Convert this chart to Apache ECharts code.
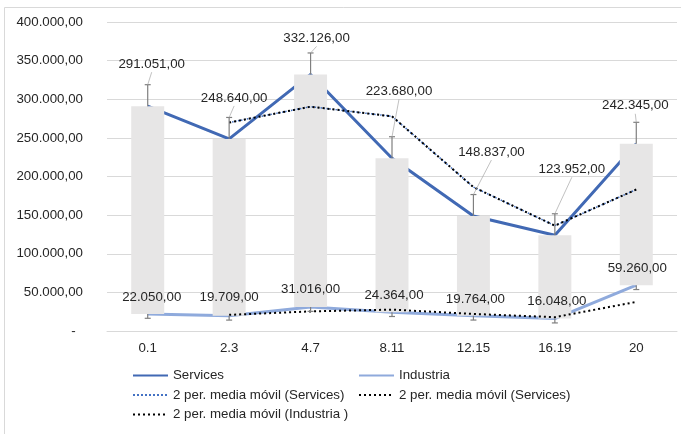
<!DOCTYPE html>
<html>
<head>
<meta charset="utf-8">
<script src="https://cdn.jsdelivr.net/npm/echarts@6/dist/echarts.min.js"></script>
<style>
  html, body { margin: 0; padding: 0; background: #fff; }
</style>
</head>
<body>
<div id="main" style="width: 681px;height:434px;"></div>
<script type="text/javascript">
    // data
    var categories = ['0.1', '2.3', '4.7', '8.11', '12.15', '16.19', '20'];
    var services = [291051, 248640, 332126, 223680, 148837, 123952, 242345];
    var industria = [22050, 19709, 31016, 24364, 19764, 16048, 59260];
    // 2 period moving averages (trendlines)
    var servicesMA = ['-', 269846, 290383, 277903, 186259, 136395, 183149];
    var industriaMA = ['-', 20880, 25363, 27690, 22064, 17906, 37654];
    // error bar amounts (standard error)
    var servicesErr = 27800;
    var industriaErr = 5600;
    var yTicks = [0, 50000, 100000, 150000, 200000, 250000, 300000, 350000, 400000];

    // label offsets in px from the point (style only)
    var servLabelOff = [[4, -42], [5, -41], [6, -36], [7, -67], [18, -64], [17, -66], [-1, -38]];
    var indLabelOff = [[4, -17], [0, -18], [0, -18], [2, -17], [2, -16], [2, -17], [1, -17]];

    var FONT = 'Liberation Sans, Arial, sans-serif';
    var TEXT = '#262626';
    var SERV_COLOR = '#4169B4';
    var IND_COLOR = '#8FAADC';

    function fmt(v) {
        var s = String(Math.round(v));
        s = s.replace(/\B(?=(\d{3})+(?!\d))/g, '.');
        return s + ',00';
    }

    var myChart = echarts.init(document.getElementById('main'));

    var legendBase = {
        orient: 'vertical',
        top: 364,
        itemWidth: 35, itemHeight: 14, itemGap: 6.5,
        itemStyle: { opacity: 0 },
        textStyle: { fontSize: 13.3, color: TEXT, fontFamily: FONT }
    };

    var option = {
        backgroundColor: '#fff',
        animation: false,
        textStyle: { fontFamily: FONT },
        graphic: [{
            type: 'rect',
            shape: { x: 4.5, y: 7.5, width: 720, height: 500 },
            style: { fill: 'none', stroke: '#D9D9D9', lineWidth: 1 },
            silent: true, z: -10
        }],
        grid: { left: 107, right: 4, top: 22, bottom: 103, containLabel: false },
        legend: [
            Object.assign({}, legendBase, {
                left: 127,
                data: ['Services', '2 per. media móvil (Services)', '2 per. media móvil (Industria )']
            }),
            Object.assign({}, legendBase, {
                left: 353,
                data: ['Industria', '2 per. media móvil (Services) ']
            })
        ],
        xAxis: {
            type: 'category',
            data: categories,
            boundaryGap: true,
            axisLine: { lineStyle: { color: '#D9D9D9', width: 1 } },
            axisTick: { show: false },
            axisLabel: { color: TEXT, fontSize: 13.3, margin: 11, fontFamily: FONT }
        },
        yAxis: {
            type: 'value',
            min: yTicks[0],
            max: yTicks[yTicks.length - 1],
            interval: 50000,
            axisLine: { show: false },
            axisTick: { show: false },
            splitLine: { lineStyle: { color: '#D9D9D9', width: 1 } },
            axisLabel: {
                color: TEXT, fontSize: 13.3, margin: 24, fontFamily: FONT,
                formatter: function (v) { return v === 0 ? '-  ' : fmt(v); }
            }
        },
        series: [{
            name: 'Services',
            type: 'line',
            data: services,
            symbol: 'none',
            z: 2,
            lineStyle: { color: SERV_COLOR, width: 3 },
            itemStyle: { color: SERV_COLOR }
        }, {
            name: 'Industria',
            type: 'line',
            data: industria,
            symbol: 'none',
            z: 2,
            lineStyle: { color: IND_COLOR, width: 3 },
            itemStyle: { color: IND_COLOR }
        }, {
            // up/down bars between the two series
            name: 'updown',
            type: 'custom',
            z: 3,
            silent: true,
            data: services.map(function (v, i) { return [i, v, industria[i]]; }),
            encode: { x: 0, y: [1, 2] },
            renderItem: function (params, api) {
                var p1 = api.coord([api.value(0), api.value(1)]);
                var p2 = api.coord([api.value(0), api.value(2)]);
                var w = api.size([1, 0])[0] * 0.405;
                return {
                    type: 'rect',
                    shape: { x: p1[0] - w / 2, y: Math.min(p1[1], p2[1]), width: w, height: Math.abs(p2[1] - p1[1]) },
                    style: { fill: '#E7E6E6' }
                };
            }
        }, {
            name: '2 per. media móvil (Services)',
            type: 'line',
            data: servicesMA,
            symbol: 'none',
            z: 4,
            lineStyle: { color: '#4472C4', width: 1.5, type: 'dotted' },
            itemStyle: { color: '#4472C4' }
        }, {
            name: '2 per. media móvil (Services) ',
            type: 'line',
            data: servicesMA,
            symbol: 'none',
            z: 5,
            lineStyle: { color: '#000', width: 2, type: [2, 3] },
            itemStyle: { color: '#000' }
        }, {
            name: '2 per. media móvil (Industria )',
            type: 'line',
            data: industriaMA,
            symbol: 'none',
            z: 5,
            lineStyle: { color: '#000', width: 2, type: [2, 3] },
            itemStyle: { color: '#000' }
        }, {
            // error bars + data labels with leader lines
            name: 'servLabels',
            type: 'custom',
            z: 6,
            silent: true,
            data: services.map(function (v, i) { return [i, v, v + servicesErr]; }),
            encode: { x: 0, y: [1, 2] },
            renderItem: function (params, api) {
                var i = params.dataIndex;
                var p = api.coord([api.value(0), api.value(1)]);
                var e = api.coord([api.value(0), api.value(2)]);
                var off = servLabelOff[i];
                var lx = p[0] + off[0], ly = p[1] + off[1];
                return {
                    type: 'group',
                    children: [
                        { type: 'line', shape: { x1: p[0], y1: p[1], x2: e[0], y2: e[1] }, style: { stroke: '#7F7F7F', lineWidth: 1.2 } },
                        { type: 'line', shape: { x1: e[0] - 3, y1: e[1], x2: e[0] + 3, y2: e[1] }, style: { stroke: '#7F7F7F', lineWidth: 1.2 } },
                        { type: 'line', shape: { x1: lx, y1: ly + 8, x2: e[0], y2: e[1] }, style: { stroke: '#A6A6A6', lineWidth: 0.7 } },
                        { type: 'text', x: lx, y: ly, style: { text: fmt(api.value(1)), fill: TEXT, font: '13.3px ' + FONT, align: 'center', verticalAlign: 'middle' } }
                    ]
                };
            }
        }, {
            name: 'indLabels',
            type: 'custom',
            z: 6,
            silent: true,
            data: industria.map(function (v, i) { return [i, v, v - industriaErr]; }),
            encode: { x: 0, y: [1, 2] },
            renderItem: function (params, api) {
                var i = params.dataIndex;
                var p = api.coord([api.value(0), api.value(1)]);
                var e = api.coord([api.value(0), api.value(2)]);
                var off = indLabelOff[i];
                return {
                    type: 'group',
                    children: [
                        { type: 'line', shape: { x1: p[0], y1: p[1], x2: e[0], y2: e[1] }, style: { stroke: '#7F7F7F', lineWidth: 1.2 } },
                        { type: 'line', shape: { x1: e[0] - 3, y1: e[1], x2: e[0] + 3, y2: e[1] }, style: { stroke: '#7F7F7F', lineWidth: 1.2 } },
                        { type: 'text', x: p[0] + off[0], y: p[1] + off[1], style: { text: fmt(api.value(1)), fill: TEXT, font: '13.3px ' + FONT, align: 'center', verticalAlign: 'middle' } }
                    ]
                };
            }
        }]
    };

    myChart.setOption(option);
</script>
</body>
</html>
